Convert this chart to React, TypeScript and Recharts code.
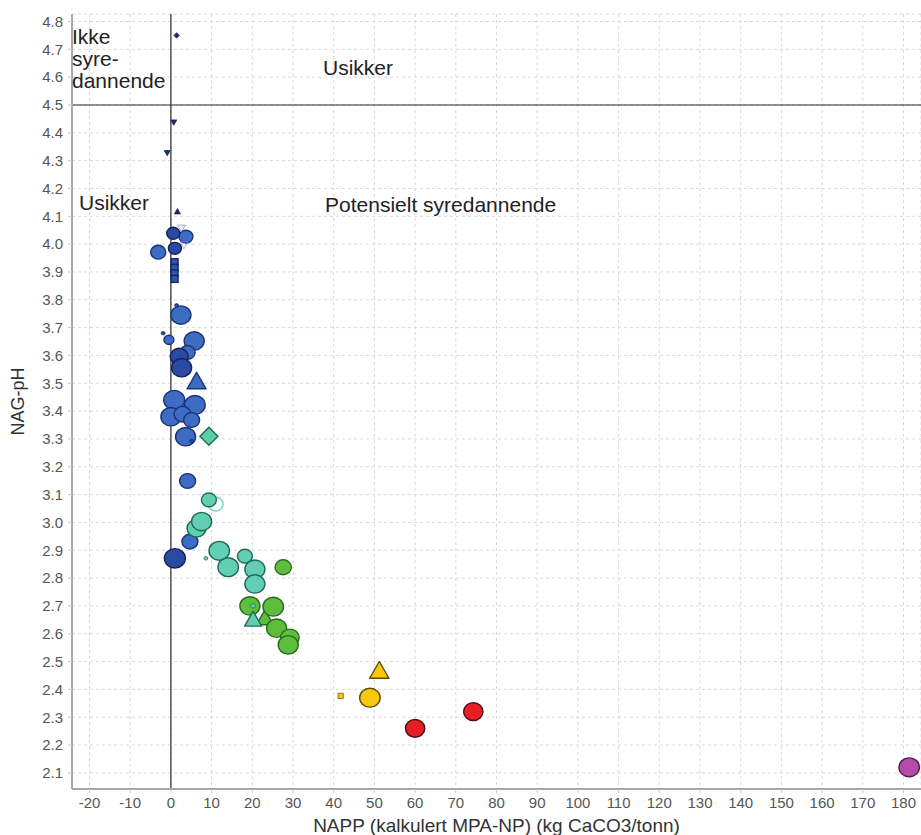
import React from "react"
import {
  CartesianGrid,
  ReferenceLine,
  Scatter,
  ScatterChart,
  XAxis,
  YAxis,
} from "recharts"

type Sample = { napp: number; ph: number; w: number }

const X_TICKS = [-20, -10, 0, 10, 20, 30, 40, 50, 60, 70, 80, 90, 100, 110, 120, 130, 140, 150, 160, 170, 180]
const Y_TICKS = [
  2.1, 2.2, 2.3, 2.4, 2.5, 2.6, 2.7, 2.8, 2.9, 3.0, 3.1, 3.2, 3.3, 3.4,
  3.5, 3.6, 3.7, 3.8, 3.9, 4.0, 4.1, 4.2, 4.3, 4.4, 4.5, 4.6, 4.7, 4.8,
]
const X_DOMAIN: [number, number] = [-24.3, 184.3]
const Y_DOMAIN: [number, number] = [2.042, 4.827]

// napp = NAPP (kg CaCO3/tonn), ph = NAG-pH, w = relative marker weight
const navyTiny: Sample[] = [{ napp: 1.4, ph: 4.75, w: 0.5 }]
const navyTriDown: Sample[] = [
  { napp: 0.7, ph: 4.44, w: 0.55 },
  { napp: -0.9, ph: 4.33, w: 0.55 },
]
const navyTriUp: Sample[] = [{ napp: 1.6, ph: 4.115, w: 0.55 }]
const blueBars: Sample[] = [
  { napp: 0.9, ph: 3.935, w: 1.6 },
  { napp: 0.9, ph: 3.915, w: 1.6 },
  { napp: 0.9, ph: 3.895, w: 1.6 },
  { napp: 0.9, ph: 3.875, w: 1.6 },
]
const blueCircles: Sample[] = [
  { napp: 3.69, ph: 4.027, w: 5.1 },
  { napp: -3.12, ph: 3.971, w: 5.9 },
  { napp: 2.46, ph: 3.745, w: 10.5 },
  { napp: -0.49, ph: 3.656, w: 2.6 },
  { napp: 5.72, ph: 3.652, w: 10.5 },
  { napp: 4.1, ph: 3.611, w: 5.9 },
  { napp: 0.81, ph: 3.44, w: 11.5 },
  { napp: 5.9, ph: 3.422, w: 11 },
  { napp: 0, ph: 3.38, w: 10.5 },
  { napp: 2.87, ph: 3.389, w: 7.5 },
  { napp: 5.09, ph: 3.368, w: 6.7 },
  { napp: 3.61, ph: 3.308, w: 10.5 },
  { napp: 4.1, ph: 3.149, w: 6.7 },
  { napp: 4.67, ph: 2.931, w: 6.7 },
]
const navyCircles: Sample[] = [
  { napp: 0.57, ph: 4.039, w: 4.4 },
  { napp: 0.98, ph: 3.985, w: 4.4 },
  { napp: 2.04, ph: 3.596, w: 8.5 },
  { napp: 2.63, ph: 3.556, w: 10.5 },
  { napp: 0.98, ph: 2.871, w: 11.5 },
  { napp: 1.4, ph: 3.78, w: 0.4 },
  { napp: -1.9, ph: 3.68, w: 0.4 },
  { napp: 5.09, ph: 3.292, w: 0.4 },
]
const blueTriangles: Sample[] = [{ napp: 6.31, ph: 3.5, w: 5.2 }]
const purpleOpen: Sample[] = [
  { napp: 2.6, ph: 4.06, w: 0.9 },
  { napp: 3.2, ph: 4.0, w: 0.9 },
]
const tealOpen: Sample[] = [{ napp: 10.98, ph: 3.066, w: 5.9 }]
const tealCircles: Sample[] = [
  { napp: 9.34, ph: 3.081, w: 5.9 },
  { napp: 6.31, ph: 2.979, w: 9.5 },
  { napp: 7.54, ph: 3.003, w: 10.5 },
  { napp: 11.87, ph: 2.898, w: 11 },
  { napp: 18.18, ph: 2.879, w: 5.9 },
  { napp: 14.08, ph: 2.839, w: 11 },
  { napp: 20.64, ph: 2.832, w: 10.5 },
  { napp: 20.64, ph: 2.779, w: 10.5 },
  { napp: 8.6, ph: 2.871, w: 0.4 },
]
const tealDiamonds: Sample[] = [{ napp: 9.34, ph: 3.31, w: 5.4 }]
const greenTriangles: Sample[] = [{ napp: 23.1, ph: 2.65, w: 4.2 }]
const greenCircles: Sample[] = [
  { napp: 27.59, ph: 2.839, w: 7 },
  { napp: 19.41, ph: 2.7, w: 10.5 },
  { napp: 25.14, ph: 2.697, w: 11 },
  { napp: 25.97, ph: 2.62, w: 10.5 },
  { napp: 29.24, ph: 2.586, w: 9 },
  { napp: 28.82, ph: 2.56, w: 10.5 },
]
const tealTriangles: Sample[] = [{ napp: 20.2, ph: 2.645, w: 4.2 }]
const tealDots: Sample[] = [{ napp: 20.2, ph: 2.7, w: 0.6 }]
const yellowSquares: Sample[] = [{ napp: 41.7, ph: 2.377, w: 0.9 }]
const yellowCircles: Sample[] = [{ napp: 48.9, ph: 2.37, w: 11 }]
const yellowTriangles: Sample[] = [{ napp: 51.2, ph: 2.46, w: 5.4 }]
const redCircles: Sample[] = [
  { napp: 60.0, ph: 2.26, w: 9.8 },
  { napp: 74.3, ph: 2.32, w: 9.8 },
]
const magentaCircles: Sample[] = [{ napp: 181.4, ph: 2.12, w: 11 }]

type Kind = "circle" | "triUp" | "triDown" | "diamond" | "square"

interface SeriesDef {
  key: string
  data: Sample[]
  kind: Kind
  fill: string
  stroke: string
  open?: boolean
}

const SERIES: SeriesDef[] = [
  { key: "navyTiny", data: navyTiny, kind: "diamond", fill: "#1d2b6e", stroke: "#131c4a" },
  { key: "navyTriDown", data: navyTriDown, kind: "triDown", fill: "#1d2b6e", stroke: "#131c4a" },
  { key: "navyTriUp", data: navyTriUp, kind: "triUp", fill: "#1d2b6e", stroke: "#131c4a" },
  { key: "blueBars", data: blueBars, kind: "square", fill: "#2f55ad", stroke: "#16265f" },
  { key: "blueCircles", data: blueCircles, kind: "circle", fill: "#3c6cc4", stroke: "#1b3372" },
  { key: "navyCircles", data: navyCircles, kind: "circle", fill: "#2b4aa3", stroke: "#15225a" },
  { key: "blueTriangles", data: blueTriangles, kind: "triUp", fill: "#3c6cc4", stroke: "#1b3372" },
  { key: "purpleOpen", data: purpleOpen, kind: "triDown", fill: "#8a7fd6", stroke: "#8a7fd6", open: true },
  { key: "tealOpen", data: tealOpen, kind: "circle", fill: "#7fd8c2", stroke: "#7fd8c2", open: true },
  { key: "tealCircles", data: tealCircles, kind: "circle", fill: "#62cfb4", stroke: "#1d6b56" },
  { key: "tealDiamonds", data: tealDiamonds, kind: "diamond", fill: "#5fcca8", stroke: "#1d6b56" },
  { key: "greenTriangles", data: greenTriangles, kind: "triUp", fill: "#5dbd3d", stroke: "#2b6a1f" },
  { key: "greenCircles", data: greenCircles, kind: "circle", fill: "#5dbd3d", stroke: "#2b6a1f" },
  { key: "tealTriangles", data: tealTriangles, kind: "triUp", fill: "#62cfb4", stroke: "#1d6b56" },
  { key: "tealDots", data: tealDots, kind: "circle", fill: "#62cfb4", stroke: "#1d6b56" },
  { key: "yellowSquares", data: yellowSquares, kind: "square", fill: "#f8c80f", stroke: "#5f4c0b" },
  { key: "yellowCircles", data: yellowCircles, kind: "circle", fill: "#f8c80f", stroke: "#5f4c0b" },
  { key: "yellowTriangles", data: yellowTriangles, kind: "triUp", fill: "#f8c80f", stroke: "#5f4c0b" },
  { key: "redCircles", data: redCircles, kind: "circle", fill: "#e61f27", stroke: "#4d0e11" },
  { key: "magentaCircles", data: magentaCircles, kind: "circle", fill: "#b64aab", stroke: "#4f1e4b" },
]

const FONT = "'Liberation Sans', Arial, sans-serif"

function Marker(props: any) {
  const { cx, cy, payload, kind, fill, stroke, open } = props
  if (cx == null || cy == null || !payload) return null
  const area = payload.w * 30
  const sw = area < 40 ? 0.7 : 1.4
  const f = open ? "none" : fill
  if (kind === "circle") {
    const r = Math.sqrt(area / Math.PI)
    return <ellipse cx={cx} cy={cy} rx={r} ry={r * 0.92} fill={f} stroke={stroke} strokeWidth={open ? 1.5 : sw} />
  }
  if (kind === "square") {
    const s = Math.sqrt(area)
    return <rect x={cx - s / 2} y={cy - s / 2} width={s} height={s} fill={f} stroke={stroke} strokeWidth={sw} />
  }
  if (kind === "diamond") {
    const h = Math.sqrt(2 * area) / 2
    const pts = `${cx},${cy - h} ${cx + h},${cy} ${cx},${cy + h} ${cx - h},${cy}`
    return <polygon points={pts} fill={f} stroke={stroke} strokeWidth={sw} />
  }
  const s = Math.sqrt((4 * area) / Math.sqrt(3))
  const h = (s * Math.sqrt(3)) / 2
  const dir = kind === "triDown" ? -1 : 1
  const pts = `${cx},${cy - (dir * 2 * h) / 3} ${cx + s / 2},${cy + (dir * h) / 3} ${cx - s / 2},${cy + (dir * h) / 3}`
  return <polygon points={pts} fill={f} stroke={stroke} strokeWidth={sw} strokeLinejoin="round" />
}

const noteStyle: React.CSSProperties = {
  position: "absolute",
  fontFamily: FONT,
  fontSize: 21,
  lineHeight: "22px",
  color: "#222",
  whiteSpace: "nowrap",
}

export default function App() {
  return (
    <div style={{ position: "absolute", left: 0, top: 0, width: 921, height: 835, background: "#fff", overflow: "hidden" }}>
      <ScatterChart width={921} height={835} margin={{ top: 14, right: 0, bottom: 0, left: 0 }}>
        <CartesianGrid stroke="#d9d9d9" strokeDasharray="3 3" />
        <XAxis
          xAxisId="top"
          orientation="top"
          type="number"
          domain={X_DOMAIN}
          allowDataOverflow
          height={0}
          tick={false}
          tickLine={false}
          axisLine={{ stroke: "#d4d4d4" }}
        />
        <XAxis
          type="number"
          dataKey="napp"
          domain={X_DOMAIN}
          allowDataOverflow
          ticks={X_TICKS}
          interval={0}
          height={46}
          tick={{ fontSize: 15, fill: "#555", fontFamily: FONT }}
          tickSize={4}
          tickMargin={4}
          tickLine={{ stroke: "#c8c8c8" }}
          axisLine={{ stroke: "#a8a8a8", strokeWidth: 2 }}
          label={{
            value: "NAPP (kalkulert MPA-NP) (kg CaCO3/tonn)",
            position: "insideBottom",
            offset: 3,
            fill: "#333",
            fontSize: 19,
            fontFamily: FONT,
          }}
        />
        <YAxis
          type="number"
          dataKey="ph"
          domain={Y_DOMAIN}
          allowDataOverflow
          ticks={Y_TICKS}
          interval={0}
          width={72}
          tickFormatter={(v: number) => v.toFixed(1)}
          tick={{ fontSize: 15, fill: "#555", fontFamily: FONT }}
          tickSize={4}
          tickMargin={5}
          tickLine={{ stroke: "#c8c8c8" }}
          axisLine={{ stroke: "#a8a8a8", strokeWidth: 2 }}
          label={{
            value: "NAG-pH",
            angle: -90,
            position: "insideLeft",
            offset: 18,
            fill: "#333",
            fontSize: 18,
            fontFamily: FONT,
            style: { textAnchor: "middle" },
          }}
        />
        <ReferenceLine x={0} stroke="#2a2a2a" strokeWidth={1.2} />
        <ReferenceLine y={4.5} stroke="#2a2a2a" strokeWidth={1.2} />
        {SERIES.map((s) => (
          <Scatter
            key={s.key}
            name={s.key}
            data={s.data}
            isAnimationActive={false}
            shape={(p: any) => (
              <Marker {...p} kind={s.kind} fill={s.fill} stroke={s.stroke} open={s.open} />
            )}
          />
        ))}
      </ScatterChart>
      <div style={{ ...noteStyle, left: 72, top: 26 }}>
        Ikke
        <br />
        syre-
        <br />
        dannende
      </div>
      <div style={{ ...noteStyle, left: 323, top: 57 }}>Usikker</div>
      <div style={{ ...noteStyle, left: 79, top: 192 }}>Usikker</div>
      <div style={{ ...noteStyle, left: 325, top: 194 }}>Potensielt syredannende</div>
    </div>
  )
}
